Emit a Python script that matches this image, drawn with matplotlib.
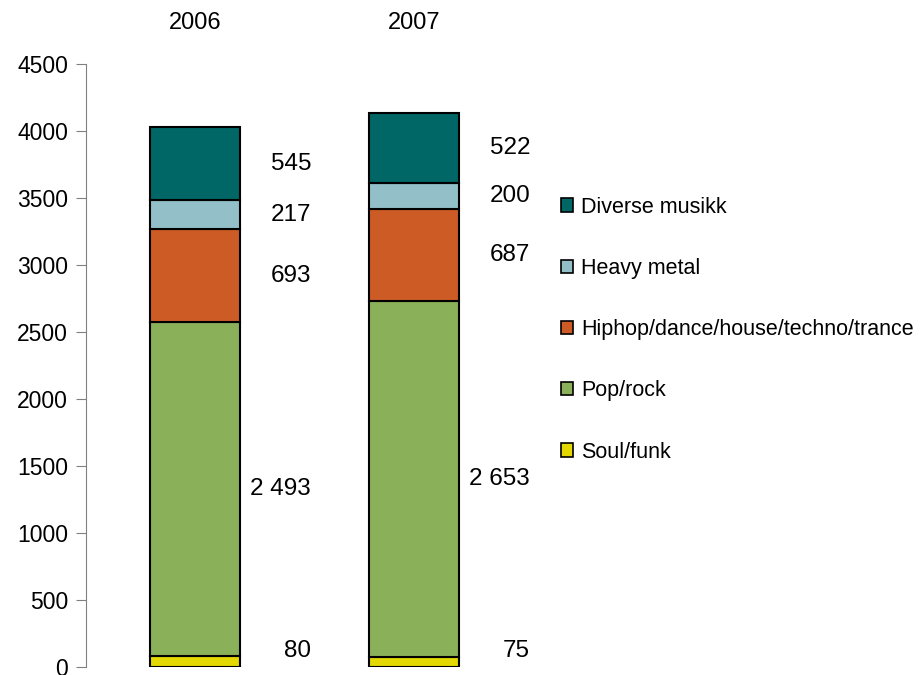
import matplotlib.pyplot as plt
from matplotlib.patches import Patch
import numpy as np

plt.rcParams['font.family'] = ['Liberation Sans', 'DejaVu Sans']

years = ['2006', '2007']
genres = ['Soul/funk', 'Pop/rock', 'Hiphop/dance/house/techno/trance', 'Heavy metal', 'Diverse musikk']
soul_funk = [80, 75]
pop_rock = [2493, 2653]
hiphop = [693, 687]
heavy_metal = [217, 200]
diverse = [545, 522]
colors = ['#E3D800', '#8AB15A', '#CD5B25', '#93C0C8', '#006666']


def fmt(v):
    return f'{v:,}'.replace(',', ' ')


fig = plt.figure(figsize=(9.23, 6.75), dpi=100)
ax = fig.add_axes([86 / 923, 1 - 667 / 675, (520 - 86) / 923, (667 - 64) / 675])

x = np.arange(len(years))
series = [soul_funk, pop_rock, hiphop, heavy_metal, diverse]
bottom = np.zeros(len(years))
for vals, col in zip(series, colors):
    vals = np.array(vals)
    ax.bar(x, vals, bottom=bottom, width=0.41, color=col, edgecolor='black', linewidth=1.5)
    for i, v in enumerate(vals):
        yc = bottom[i] + v / 2
        if v < 150:
            yc = bottom[i] + v / 2 + 80
        ax.text(x[i] + 0.53, yc, fmt(v), ha='right', va='center', fontsize=17.5)
    bottom += vals

for i, yr in enumerate(years):
    ax.text(x[i], 1.068, yr, transform=ax.get_xaxis_transform(), ha='center', va='center', fontsize=17)

ax.set_xlim(-0.498, 1.484)
ax.set_ylim(0, 4500)
ax.set_yticks(np.arange(0, 4501, 500))
ax.tick_params(axis='y', labelsize=16.5, length=7, color='#808080', pad=6)
ax.set_xticks([])
for s in ['top', 'right', 'bottom']:
    ax.spines[s].set_visible(False)
ax.spines['left'].set_color('#808080')

handles = [Patch(facecolor=c, edgecolor='black', linewidth=1.2, label=g)
           for g, c in zip(genres[::-1], colors[::-1])]
fig.legend(handles=handles, loc='upper left', bbox_to_anchor=(552 / 923, 1 - 188 / 675),
           frameon=False, fontsize=15.5, handlelength=0.56, handleheight=0.56,
           handletextpad=0.4, labelspacing=1.87, borderaxespad=0)

fig.savefig('out.png', dpi=100)
